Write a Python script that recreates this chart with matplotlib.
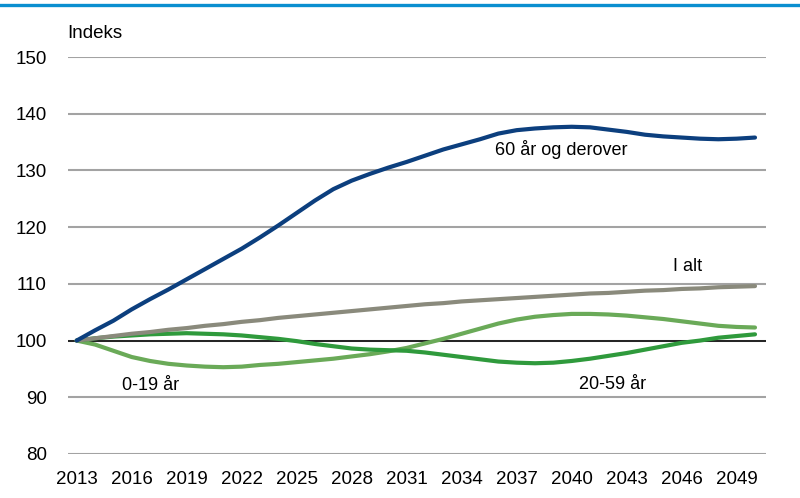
import matplotlib
matplotlib.use("Agg")
import matplotlib.pyplot as plt
from matplotlib.lines import Line2D

years = list(range(2013, 2051))

age_60_plus = [100.0, 101.8, 103.5, 105.5, 107.3, 109.0, 110.8, 112.6, 114.4, 116.2,
               118.2, 120.3, 122.5, 124.7, 126.7, 128.2, 129.4, 130.5, 131.5, 132.6,
               133.7, 134.6, 135.5, 136.5, 137.1, 137.4, 137.6, 137.7, 137.6, 137.2,
               136.8, 136.3, 136.0, 135.8, 135.6, 135.5, 135.6, 135.8]
total = [100.0, 100.4, 100.8, 101.2, 101.5, 101.9, 102.2, 102.6, 102.9, 103.3,
         103.6, 104.0, 104.3, 104.6, 104.9, 105.2, 105.5, 105.8, 106.1, 106.4,
         106.6, 106.9, 107.1, 107.3, 107.5, 107.7, 107.9, 108.1, 108.3, 108.4,
         108.6, 108.8, 108.9, 109.1, 109.2, 109.4, 109.5, 109.6]
age_0_19 = [100.0, 99.3, 98.2, 97.1, 96.4, 95.9, 95.6, 95.4, 95.3, 95.4,
            95.7, 95.9, 96.2, 96.5, 96.8, 97.2, 97.6, 98.1, 98.7, 99.5,
            100.3, 101.2, 102.1, 103.0, 103.7, 104.2, 104.5, 104.7, 104.7, 104.6,
            104.4, 104.1, 103.8, 103.4, 103.0, 102.6, 102.4, 102.3]
age_20_59 = [100.0, 100.4, 100.7, 100.9, 101.1, 101.2, 101.3, 101.2, 101.1, 100.9,
             100.6, 100.3, 99.9, 99.4, 99.0, 98.6, 98.4, 98.3, 98.2, 97.9,
             97.5, 97.1, 96.7, 96.3, 96.1, 96.0, 96.1, 96.4, 96.8, 97.3,
             97.8, 98.4, 99.0, 99.6, 100.0, 100.5, 100.8, 101.1]

x_ticks = list(range(2013, 2050, 3))
y_ticks = [80, 90, 100, 110, 120, 130, 140, 150]

tick_font = ["Liberation Sans Narrow", "Liberation Sans", "DejaVu Sans"]
label_font = ["Liberation Sans", "DejaVu Sans"]

fig = plt.figure(figsize=(8.0, 4.98), dpi=100)
ax = fig.add_axes([0.0844, 0.0884, 0.8731, 0.7971])

# top rule
fig.add_artist(Line2D([0, 1], [0.989, 0.989], transform=fig.transFigure,
                      color="#0a8fd0", lw=2.4))

ax.set_xlim(2012.5, 2050.6)
ax.set_ylim(80, 150)
for y in y_ticks:
    ax.axhline(y, color="#a3a3a3", lw=1.5, zorder=1)
ax.axhline(100, color="black", lw=1.1, zorder=2)

ax.plot(years, age_0_19, color="#6aaa58", lw=3.0, zorder=3, solid_capstyle="round")
ax.plot(years, age_20_59, color="#2f9a3c", lw=3.0, zorder=4, solid_capstyle="round")
ax.plot(years, total, color="#8a8a7c", lw=3.0, zorder=5, solid_capstyle="round")
ax.plot(years, age_60_plus, color="#0c3f7e", lw=3.0, zorder=6, solid_capstyle="round")

for s in ax.spines.values():
    s.set_visible(False)
ax.set_xticks(x_ticks)
ax.set_xticklabels([str(v) for v in x_ticks], family=tick_font, fontsize=13.5)
ax.set_yticks(y_ticks)
ax.set_yticklabels([str(v) for v in y_ticks], family=tick_font, fontsize=13.5)
ax.tick_params(axis="both", length=0)
ax.tick_params(axis="y", pad=15)
ax.tick_params(axis="x", pad=12)

ax.text(0.0, 154.2, "Indeks", transform=ax.get_yaxis_transform(), family=tick_font,
        fontsize=13.5, va="center", ha="left", clip_on=False)
ax.text(2035.8, 133.7, "60 år og derover", family=label_font, fontsize=13, va="center", ha="left")
ax.text(2045.5, 113.1, "I alt", family=label_font, fontsize=13, va="center", ha="left")
ax.text(2015.45, 92.1, "0-19 år", family=label_font, fontsize=13, va="center", ha="left")
ax.text(2040.4, 92.2, "20-59 år", family=label_font, fontsize=13, va="center", ha="left")

fig.savefig("out.png", dpi=100)
